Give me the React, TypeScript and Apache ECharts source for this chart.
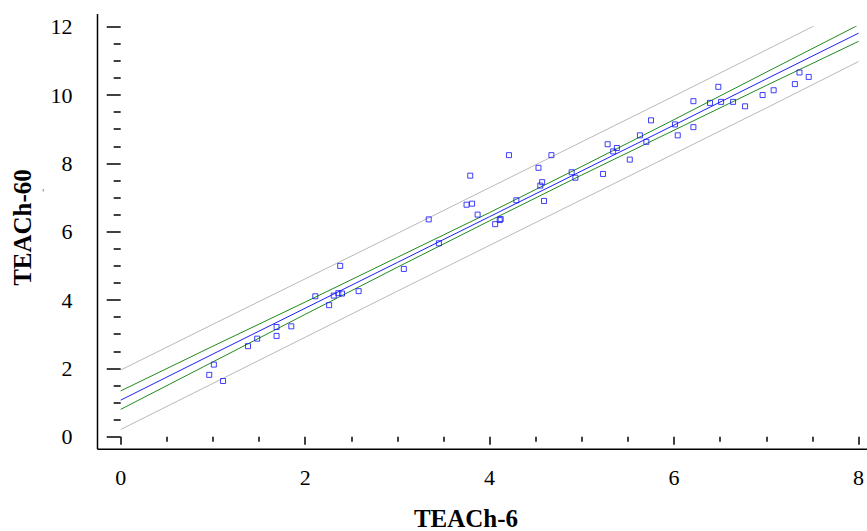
import React, { useEffect, useRef } from "react";
import * as echarts from "echarts";

// Observed points: TEACh-6 (x) vs TEACh-60 (y)
const teach6 = [
  0.96, 1.01, 1.11, 1.38, 1.48, 1.69, 1.69, 1.85, 2.11, 2.26, 2.31, 2.36, 2.40, 2.38,
  2.58, 3.07, 3.34, 3.45, 3.79, 3.75, 3.81, 3.87, 4.06, 4.11, 4.12, 4.21, 4.29, 4.53,
  4.57, 4.55, 4.59, 4.67, 4.89, 4.93, 5.23, 5.28, 5.34, 5.38, 5.52, 5.63, 5.70, 5.75,
  6.01, 6.04, 6.21, 6.21, 6.39, 6.48, 6.51, 6.64, 6.77, 6.96, 7.08, 7.31, 7.36, 7.46,
];
const teach60 = [
  1.81, 2.11, 1.63, 2.65, 2.87, 3.21, 2.95, 3.23, 4.11, 3.85, 4.13, 4.20, 4.19, 5.00,
  4.26, 4.91, 6.36, 5.66, 7.64, 6.79, 6.82, 6.50, 6.22, 6.34, 6.37, 8.24, 6.92, 7.87,
  7.45, 7.35, 6.90, 8.24, 7.74, 7.58, 7.69, 8.56, 8.35, 8.45, 8.11, 8.82, 8.63, 9.26,
  9.14, 8.82, 9.06, 9.82, 9.77, 10.24, 9.80, 9.80, 9.67, 10.00, 10.14, 10.32, 10.66, 10.53,
];

// Fitted line and bands, read at these x positions
const bandX = [0, 1, 2, 3, 4, 5, 6, 7, 8];
const fitLine = [1.07, 2.42, 3.76, 5.1, 6.44, 7.78, 9.12, 10.47, 11.81];
const confUpper = [1.34, 2.65, 3.94, 5.25, 6.56, 7.91, 9.28, 10.67, 12.05];
const confLower = [0.8, 2.19, 3.58, 4.96, 6.32, 7.66, 8.97, 10.28, 11.57];
const predUpper = [1.95, 3.29, 4.62, 5.95, 7.29, 8.63, 9.97, 11.32, 12.68];
const predLower = [0.21, 1.56, 2.91, 4.26, 5.6, 6.94, 8.28, 9.62, 10.98];

const xTitle = "TEACh-6";
const yTitle = "TEACh-60";

const SERIF = "Liberation Serif";

function lineSeries(name: string, ys: number[], color: string) {
  return {
    name,
    type: "line",
    data: bandX.map((x, i) => [x, ys[i]]),
    showSymbol: false,
    symbol: "none",
    clip: true,
    lineStyle: { color, width: 1 },
    z: 2,
  };
}

export default function App() {
  const ref = useRef<HTMLDivElement>(null);

  useEffect(() => {
    if (!ref.current) return;
    const chart = echarts.init(ref.current, undefined, { renderer: "svg" });
    chart.setOption({
      animation: false,
      backgroundColor: "#fff",
      textStyle: { fontFamily: SERIF },
      grid: { left: 120.7, right: 7.7, top: 26.7, bottom: 94.3, containLabel: false },
      xAxis: {
        type: "value",
        min: 0,
        max: 8,
        interval: 2,
        offset: 12.6,
        axisLine: { show: false },
        splitLine: { show: false },
        axisTick: { show: true, length: 8, lineStyle: { color: "#000", width: 1.5 } },
        minorTick: { show: true, splitNumber: 4, length: 5, lineStyle: { color: "#000", width: 1.5 } },
        axisLabel: { color: "#000", fontFamily: SERIF, fontSize: 22, margin: 17 },
      },
      yAxis: {
        type: "value",
        min: 0,
        max: 12,
        interval: 2,
        offset: 23.2,
        axisLine: { show: false },
        splitLine: { show: false },
        axisTick: { show: true, length: 14, lineStyle: { color: "#000", width: 1.5 } },
        minorTick: { show: true, splitNumber: 4, length: 7, lineStyle: { color: "#000", width: 1.5 } },
        axisLabel: { color: "#000", fontFamily: SERIF, fontSize: 22, margin: 25 },
      },
      graphic: [
        {
          type: "line",
          shape: { x1: 97.5, y1: 14, x2: 97.5, y2: 449.3 },
          style: { stroke: "#000", lineWidth: 1.5 },
        },
        {
          type: "line",
          shape: { x1: 97.5, y1: 449.3, x2: 867, y2: 449.3 },
          style: { stroke: "#000", lineWidth: 1.5 },
        },
        {
          type: "line",
          shape: { x1: 43.3, y1: 189, x2: 43.3, y2: 191.5 },
          style: { stroke: "#888", lineWidth: 1 },
        },
        {
          type: "text",
          x: 466,
          y: 518,
          style: {
            text: xTitle,
            fill: "#000",
            fontFamily: SERIF,
            fontWeight: "bold",
            fontSize: 25,
            align: "center",
            verticalAlign: "middle",
          },
        },
        {
          type: "text",
          x: 22.5,
          y: 227.5,
          rotation: Math.PI / 2,
          style: {
            text: yTitle,
            fill: "#000",
            fontFamily: SERIF,
            fontWeight: "bold",
            fontSize: 25,
            align: "center",
            verticalAlign: "middle",
          },
        },
      ],
      series: [
        lineSeries("pred-upper", predUpper, "#b9b9b9"),
        lineSeries("pred-lower", predLower, "#b9b9b9"),
        lineSeries("conf-upper", confUpper, "#1f8a1f"),
        lineSeries("conf-lower", confLower, "#1f8a1f"),
        lineSeries("fit", fitLine, "#1e1eff"),
        {
          name: "observed",
          type: "scatter",
          data: teach6.map((x, i) => [x, teach60[i]]),
          symbol: "rect",
          symbolSize: 5,
          itemStyle: { color: "rgba(255,255,255,0)", borderColor: "#1010ff", borderWidth: 1 },
          z: 3,
        },
      ],
    });
    return () => chart.dispose();
  }, []);

  return (
    <div
      ref={ref}
      style={{ position: "fixed", left: 0, top: 0, width: 867, height: 531, background: "#fff" }}
    />
  );
}
